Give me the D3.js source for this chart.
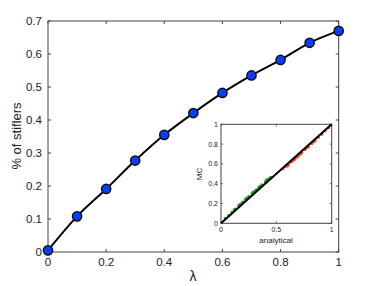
<!DOCTYPE html>
<html>
<head>
<meta charset="utf-8">
<script src="https://cdn.jsdelivr.net/npm/d3@7"></script>
<style>
body { margin: 0; background: #fff; }
text { font-family: "Liberation Sans", Arial, sans-serif; fill: #222; }
</style>
</head>
<body>
<script>
// Data
var lambdas = [0, 0.1, 0.2, 0.3, 0.4, 0.5, 0.6, 0.7, 0.8, 0.9, 1.0];
var stiflers = [0.005, 0.108, 0.191, 0.277, 0.355, 0.421, 0.482, 0.535, 0.582, 0.634, 0.670];
var xTicks = [0, 0.2, 0.4, 0.6, 0.8, 1];
var yTicks = [0, 0.1, 0.2, 0.3, 0.4, 0.5, 0.6, 0.7];
var insetTicksY = [0, 0.2, 0.4, 0.6, 0.8, 1];
var insetTicksX = [0, 0.5, 1];
// inset scatter (analytical, MC)
var greenPts = [[0.04,0.05],[0.07,0.08],[0.10,0.115],[0.13,0.145],[0.16,0.18],[0.19,0.21],[0.22,0.24],
  [0.25,0.27],[0.28,0.30],[0.31,0.33],[0.34,0.36],[0.37,0.39],[0.40,0.42],[0.43,0.45],[0.45,0.465],
  [0.12,0.14],[0.17,0.19],[0.23,0.255],[0.29,0.315],[0.35,0.375],[0.41,0.44],[0.20,0.215],[0.32,0.34]];
var redPts = [[0.56,0.55],[0.58,0.57],[0.61,0.595],[0.64,0.625],[0.67,0.655],[0.70,0.685],[0.73,0.715],
  [0.76,0.745],[0.79,0.775],[0.82,0.805],[0.85,0.84],[0.88,0.87],[0.91,0.90],[0.94,0.935],[0.97,0.965],
  [0.60,0.58],[0.66,0.64],[0.72,0.70],[0.78,0.765],[0.84,0.825],[0.63,0.62],[0.69,0.67]];

var w = 374, h = 286;
var svg = d3.select("body").append("svg").attr("width", w).attr("height", h);

var x = d3.scaleLinear().domain([0, 1]).range([48, 338.7]);
var y = d3.scaleLinear().domain([0, 0.7]).range([252, 21]);

// Frame
svg.append("rect").attr("x", 48).attr("y", 21).attr("width", 290.7).attr("height", 231)
  .style("fill", "none").style("stroke", "#444").style("stroke-width", 1);

// Ticks inside (matlab style)
var tk = svg.append("g").style("stroke", "#444").style("stroke-width", 1);
xTicks.forEach(function(t) {
  tk.append("line").attr("x1", x(t)).attr("x2", x(t)).attr("y1", 252).attr("y2", 249);
  tk.append("line").attr("x1", x(t)).attr("x2", x(t)).attr("y1", 21).attr("y2", 24);
});
yTicks.forEach(function(t) {
  tk.append("line").attr("x1", 48).attr("x2", 51).attr("y1", y(t)).attr("y2", y(t));
  tk.append("line").attr("x1", 338.7).attr("x2", 335.7).attr("y1", y(t)).attr("y2", y(t));
});

svg.selectAll(".xl").data(xTicks).enter().append("text")
  .attr("x", d => x(d)).attr("y", 266).attr("text-anchor", "middle")
  .style("font-size", "11.5px").text(d => d3.format("")(d));
svg.selectAll(".yl").data(yTicks).enter().append("text")
  .attr("x", 42).attr("y", d => y(d) + 4).attr("text-anchor", "end")
  .style("font-size", "11.5px").text(d => d3.format("")(d));

svg.append("text").attr("transform", "translate(21,136) rotate(-90)")
  .attr("text-anchor", "middle").style("font-size", "13px").text("% of stiflers");
svg.append("text").attr("x", 193).attr("y", 281).attr("text-anchor", "middle")
  .style("font-size", "14px").text("λ");

// Line + markers
var line = d3.line().x((d, i) => x(lambdas[i])).y(d => y(d)).curve(d3.curveMonotoneX);
svg.append("path").datum(stiflers).attr("d", line)
  .style("fill", "none").style("stroke", "#000").style("stroke-width", 2);
svg.selectAll(".pt").data(stiflers).enter().append("circle")
  .attr("cx", (d, i) => x(lambdas[i])).attr("cy", d => y(d)).attr("r", 4.6)
  .style("fill", "#0a3cff").style("stroke", "#111").style("stroke-width", 1.5);

// Inset
var ix = d3.scaleLinear().domain([0, 1]).range([221, 331.7]);
var iy = d3.scaleLinear().domain([0, 1]).range([223.3, 124.3]);
var inset = svg.append("g");
inset.append("rect").attr("x", 221).attr("y", 124.3).attr("width", 110.7).attr("height", 99)
  .style("fill", "#fff").style("stroke", "#444").style("stroke-width", 1);
var itk = inset.append("g").style("stroke", "#444").style("stroke-width", 0.8);
insetTicksX.forEach(function(t) {
  itk.append("line").attr("x1", ix(t)).attr("x2", ix(t)).attr("y1", 223.3).attr("y2", 221.3);
  itk.append("line").attr("x1", ix(t)).attr("x2", ix(t)).attr("y1", 124.3).attr("y2", 126.3);
});
insetTicksY.forEach(function(t) {
  itk.append("line").attr("x1", 221).attr("x2", 223).attr("y1", iy(t)).attr("y2", iy(t));
  itk.append("line").attr("x1", 331.7).attr("x2", 329.7).attr("y1", iy(t)).attr("y2", iy(t));
});
inset.selectAll(".ixl").data(insetTicksX).enter().append("text")
  .attr("x", d => ix(d)).attr("y", 232).attr("text-anchor", "middle")
  .style("font-size", "7px").text(d => d3.format("")(d));
inset.selectAll(".iyl").data(insetTicksY).enter().append("text")
  .attr("x", 218).attr("y", d => iy(d) + 2.5).attr("text-anchor", "end")
  .style("font-size", "7px").text(d => d3.format("")(d));
inset.append("text").attr("transform", "translate(202,174) rotate(-90)")
  .attr("text-anchor", "middle").style("font-size", "8px").text("MC");
inset.append("text").attr("x", 276).attr("y", 243).attr("text-anchor", "middle")
  .style("font-size", "8px").text("analytical");

inset.selectAll(".gp").data(greenPts).enter().append("circle")
  .attr("cx", d => ix(d[0])).attr("cy", d => iy(d[1])).attr("r", 1.5)
  .style("fill", "#1f9a1f");
inset.selectAll(".rp").data(redPts).enter().append("circle")
  .attr("cx", d => ix(d[0])).attr("cy", d => iy(d[1])).attr("r", 1.5)
  .style("fill", "#ff3a1a");
inset.append("line").attr("x1", ix(0)).attr("y1", iy(0)).attr("x2", ix(1)).attr("y2", iy(1))
  .style("stroke", "#000").style("stroke-width", 2);
</script>
</body>
</html>
